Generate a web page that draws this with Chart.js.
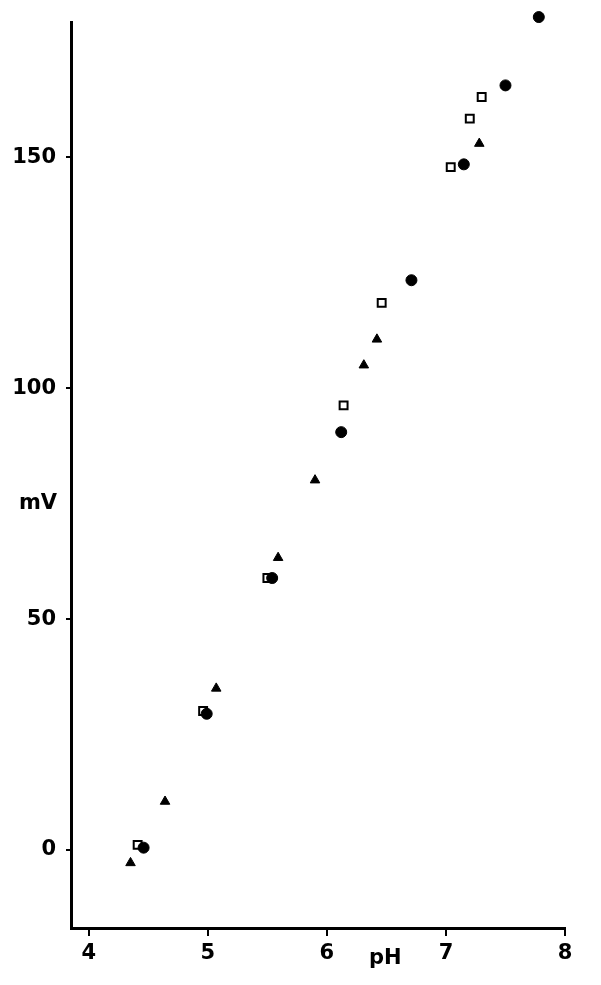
<!DOCTYPE html>
<html>
<head>
<meta charset="utf-8">
<script src="https://cdn.jsdelivr.net/npm/chart.js@4.4.0/dist/chart.umd.min.js"></script>
<style>
  body { margin: 0; background: #fff; }
  canvas { display: block; }
</style>
</head>
<body>
<canvas id="phChart" width="601" height="985"></canvas>
<script>
// readings: pH vs mV, three electrode series
const circlePH = [4.46, 4.99, 5.54, 6.12, 6.71, 7.15, 7.50, 7.78];
const circleMV = [0.5, 29.5, 58.9, 90.5, 123.4, 148.5, 165.6, 180.4];

const squarePH = [4.41, 4.96, 5.50, 6.14, 6.46, 7.04, 7.20, 7.30];
const squareMV = [1.1, 30.1, 58.9, 96.3, 118.5, 147.9, 158.4, 163.1];

const trianglePH = [4.35, 4.64, 5.07, 5.59, 5.90, 6.31, 6.42, 7.28];
const triangleMV = [-2.8, 10.5, 35.0, 63.3, 80.1, 105.0, 110.6, 153.0];

const xTicks = [4, 5, 6, 7, 8];
const yTicks = [0, 50, 100, 150];

const toPoints = (xs, ys) => xs.map((x, i) => ({ x: x, y: ys[i] }));

const tickFont = { family: 'DejaVu Sans', weight: 'bold', size: 21 };

// axis names sit in odd spots on the original, so draw them by hand
const axisNames = {
  id: 'axisNames',
  afterDraw(chart) {
    const ctx = chart.ctx;
    const xs = chart.scales.x;
    const ys = chart.scales.y;
    ctx.save();
    ctx.fillStyle = '#000';
    ctx.font = 'bold 21px "DejaVu Sans"';
    ctx.textAlign = 'center';
    ctx.textBaseline = 'middle';
    ctx.fillText('pH', xs.getPixelForValue(6.49), 959);
    ctx.fillText('mV', 38, ys.getPixelForValue(75));
    ctx.restore();
  }
};

new Chart(document.getElementById('phChart'), {
  type: 'scatter',
  data: {
    datasets: [
      {
        label: 'circles',
        data: toPoints(circlePH, circleMV),
        pointStyle: 'circle',
        pointRadius: 5.5,
        backgroundColor: '#000',
        borderColor: '#000',
        borderWidth: 1,
        clip: false
      },
      {
        label: 'squares',
        data: toPoints(squarePH, squareMV),
        pointStyle: 'rect',
        pointRadius: 5.6,
        backgroundColor: '#fff',
        borderColor: '#000',
        borderWidth: 2,
        clip: false
      },
      {
        label: 'triangles',
        data: toPoints(trianglePH, triangleMV),
        pointStyle: 'triangle',
        pointRadius: 5.5,
        backgroundColor: '#000',
        borderColor: '#000',
        borderWidth: 1,
        clip: false
      }
    ]
  },
  options: {
    responsive: false,
    animation: false,
    layout: { padding: { top: 22, right: 36, left: 0, bottom: 0 } },
    plugins: {
      legend: { display: false },
      tooltip: { enabled: false }
    },
    scales: {
      x: {
        type: 'linear',
        min: 3.85,
        max: 8,
        afterBuildTicks: scale => { scale.ticks = xTicks.map(v => ({ value: v })); },
        afterFit: scale => { scale.height = 57; },
        border: { display: true, color: '#000', width: 3 },
        grid: { drawOnChartArea: false, drawTicks: true, tickLength: 8, color: '#000', lineWidth: 2 },
        ticks: { color: '#000', font: tickFont, padding: 5, maxRotation: 0 }
      },
      y: {
        type: 'linear',
        min: -16.9,
        max: 179.2,
        afterBuildTicks: scale => { scale.ticks = yTicks.map(v => ({ value: v })); },
        afterFit: scale => { scale.width = 71; },
        border: { display: true, color: '#000', width: 3 },
        grid: { drawOnChartArea: false, drawTicks: true, tickLength: 5, color: '#000', lineWidth: 2 },
        ticks: { color: '#000', font: tickFont, padding: 10 }
      }
    }
  },
  plugins: [axisNames]
});
</script>
</body>
</html>
